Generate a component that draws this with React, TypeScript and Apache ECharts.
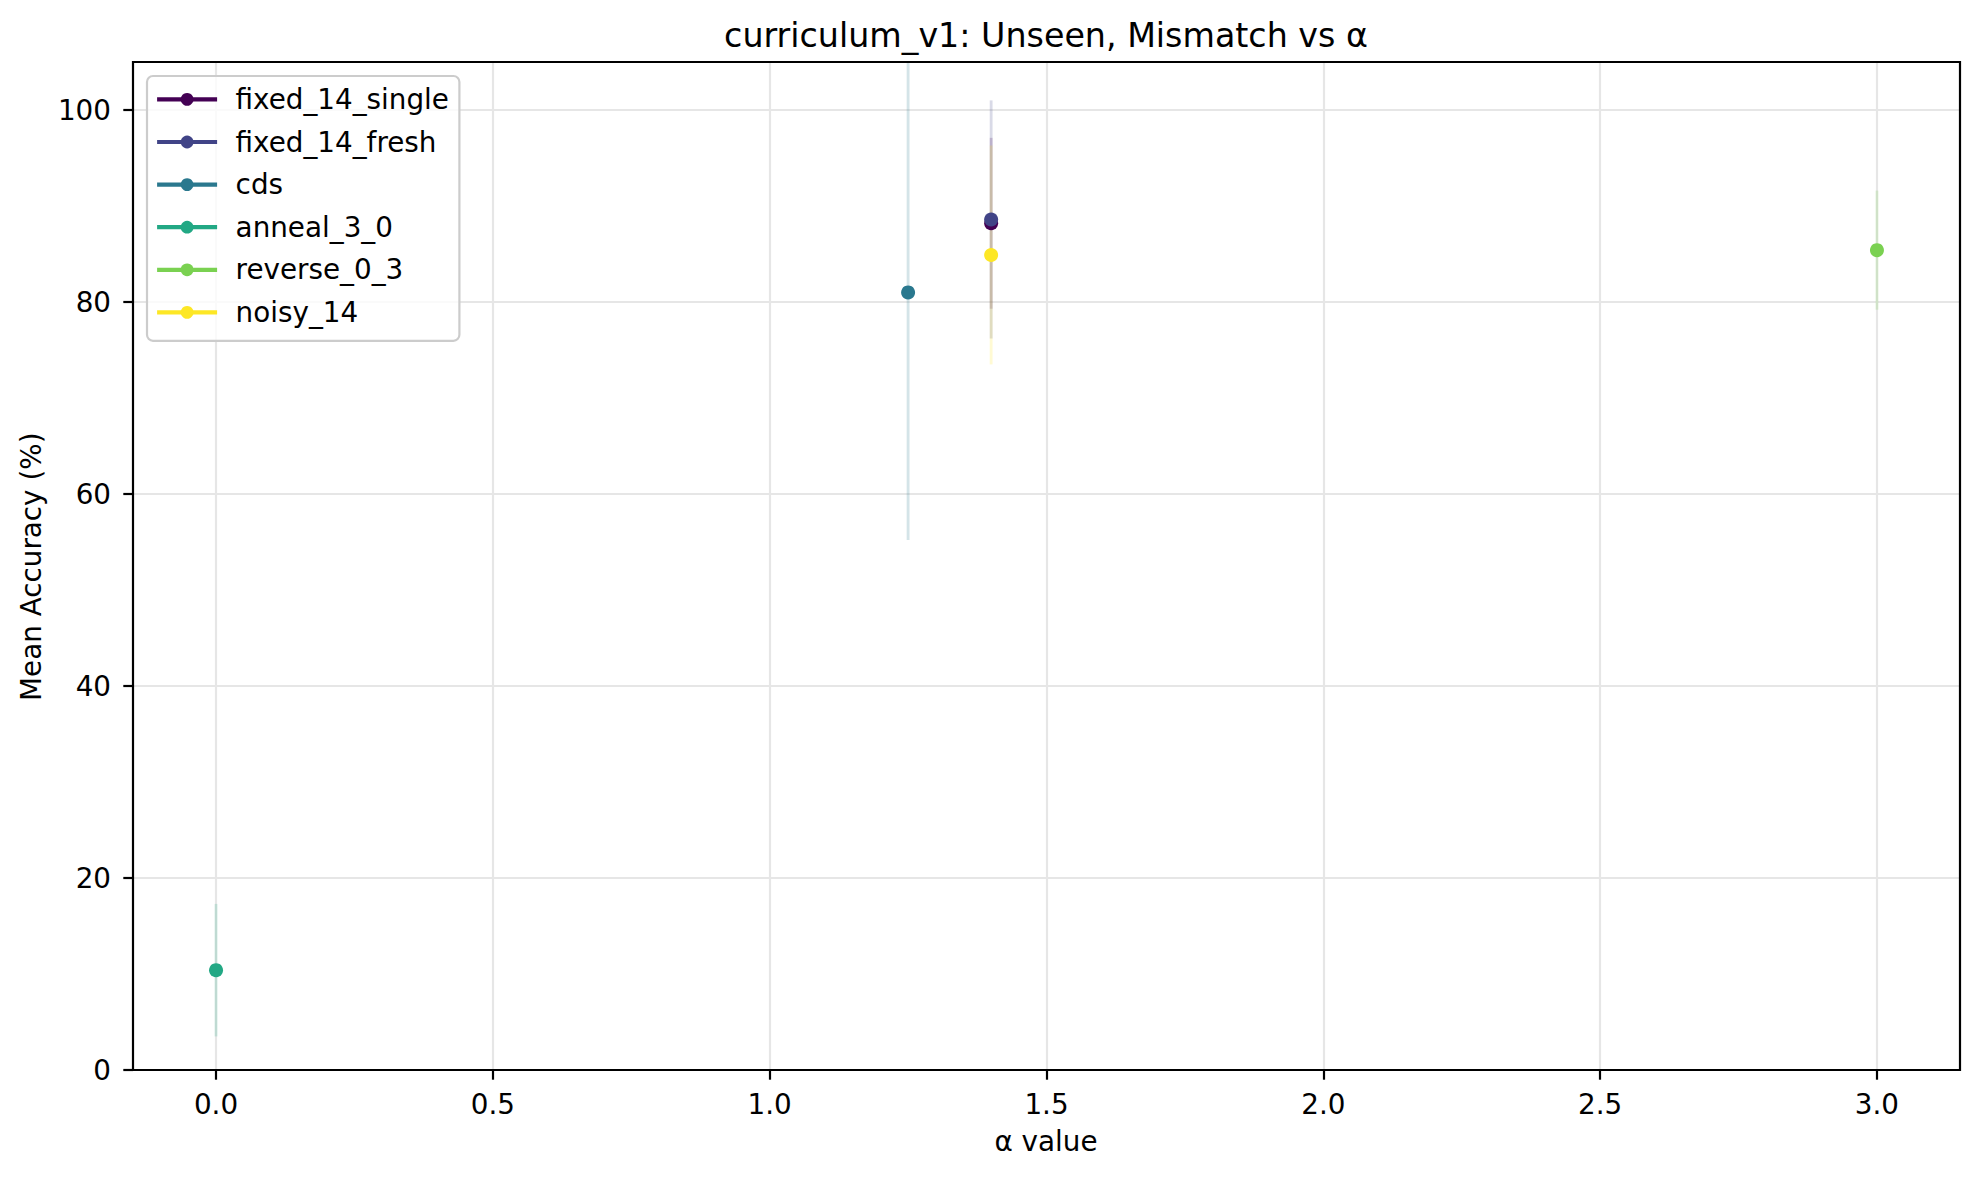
import React, { useEffect, useRef } from "react";
import * as echarts from "echarts";

// ---- data ----
const seriesNames = ["fixed_14_single", "fixed_14_fresh", "cds", "anneal_3_0", "reverse_0_3", "noisy_14"];
const alphaValues = [1.4, 1.4, 1.25, 0.0, 3.0, 1.4];
const meanAccuracy = [88.2, 88.6, 81.0, 10.4, 85.4, 84.9];
const stdAccuracy = [8.9, 12.4, 25.8, 6.9, 6.2, 11.4];
const seriesColors = ["#440154", "#414487", "#2a788e", "#22a884", "#7ad151", "#fde725"];
const xTicks = [0, 0.5, 1.0, 1.5, 2.0, 2.5, 3.0];
const xTickLabels = ["0.0", "0.5", "1.0", "1.5", "2.0", "2.5", "3.0"];
const yTicks = [0, 20, 40, 60, 80, 100];
const X_MIN = -0.15;
const X_MAX = 3.15;
const Y_MIN = 0;
const Y_MAX = 105;

const TITLE = "curriculum_v1: Unseen, Mismatch vs α";
const X_LABEL = "α value";
const Y_LABEL = "Mean Accuracy (%)";

const FONT = "DejaVu Sans";

export default function App() {
  const ref = useRef<HTMLDivElement>(null);

  useEffect(() => {
    if (!ref.current) return;
    const chart = echarts.init(ref.current, undefined, { renderer: "svg" });

    const series: any[] = [];
    seriesNames.forEach((name, i) => {
      const color = seriesColors[i];
      series.push({
        type: "custom",
        name: name + " error",
        clip: true,
        silent: true,
        z: 2,
        data: [[alphaValues[i], meanAccuracy[i] - stdAccuracy[i], meanAccuracy[i] + stdAccuracy[i]]],
        encode: { x: 0, y: [1, 2] },
        renderItem: (params: any, api: any) => {
          const lo = Math.max(api.value(1), Y_MIN);
          const hi = Math.min(api.value(2), Y_MAX);
          const p1 = api.coord([api.value(0), lo]);
          const p2 = api.coord([api.value(0), hi]);
          return {
            type: "line",
            shape: { x1: p1[0], y1: p1[1], x2: p2[0], y2: p2[1] },
            style: { stroke: color, lineWidth: 2.8, opacity: 0.2 },
          };
        },
      });
      series.push({
        type: "line",
        name,
        data: [[alphaValues[i], meanAccuracy[i]]],
        symbol: "circle",
        symbolSize: 14,
        showSymbol: true,
        silent: true,
        z: 3,
        itemStyle: { color, borderWidth: 0 },
        lineStyle: { color, width: 4.2 },
        emphasis: { disabled: true },
      });
    });

    // axes frame (spines), drawn through the axis scales, above everything
    series.push({
      type: "custom",
      name: "frame",
      clip: false,
      silent: true,
      z: 20,
      data: [[X_MIN, Y_MIN, X_MAX, Y_MAX]],
      encode: { x: [0, 2], y: [1, 3] },
      renderItem: (params: any, api: any) => {
        const tl = api.coord([api.value(0), api.value(3)]);
        const br = api.coord([api.value(2), api.value(1)]);
        return {
          type: "rect",
          shape: { x: tl[0], y: tl[1], width: br[0] - tl[0], height: br[1] - tl[1] },
          style: { fill: "none", stroke: "#000000", lineWidth: 2.2 },
        };
      },
    });

    const option: any = {
      animation: false,
      backgroundColor: "#ffffff",
      grid: {
        left: 133,
        top: 62,
        right: 20,
        bottom: 107,
        show: false,
        containLabel: false,
      },
      xAxis: {
        type: "value",
        min: X_MIN,
        max: X_MAX,
        axisLine: { show: false, onZero: false },
        axisTick: {
          show: true,
          customValues: xTicks,
          length: 9.7,
          lineStyle: { color: "#000000", width: 2.2 },
        },
        axisLabel: {
          show: true,
          customValues: xTicks,
          formatter: (v: number) => {
            const idx = xTicks.findIndex((t) => Math.abs(t - v) < 1e-9);
            return idx >= 0 ? xTickLabels[idx] : "";
          },
          margin: 20,
          fontSize: 27.8,
          fontFamily: FONT,
          color: "#000000",
        },
        splitLine: { show: true, lineStyle: { color: "#e6e6e6", width: 2.2 } },
      },
      yAxis: {
        type: "value",
        min: Y_MIN,
        max: Y_MAX,
        axisLine: { show: false, onZero: false },
        axisTick: {
          show: true,
          customValues: yTicks,
          length: 9.7,
          lineStyle: { color: "#000000", width: 2.2 },
        },
        axisLabel: {
          show: true,
          customValues: yTicks,
          formatter: (v: number) => String(v),
          margin: 22,
          fontSize: 27.8,
          fontFamily: FONT,
          color: "#000000",
          padding: [5, 0, 0, 0],
        },
        splitLine: { show: true, lineStyle: { color: "#e6e6e6", width: 2.2 } },
      },
      legend: {
        data: seriesNames,
        orient: "vertical",
        left: 147,
        top: 76,
        itemWidth: 60,
        itemHeight: 16,
        itemGap: 14.6,
        padding: [9.4, 10.5, 14.4, 8],
        backgroundColor: "rgba(255,255,255,0.8)",
        borderColor: "#cccccc",
        borderWidth: 2.2,
        borderRadius: 6,
        selectedMode: false,
        lineStyle: { width: 4.2 },
        textStyle: {
          fontSize: 27.8,
          fontFamily: FONT,
          color: "#000000",
          padding: [0, 0, 0, 13.5],
        },
        z: 10,
      },
      tooltip: { show: false },
      graphic: [
        {
          type: "text",
          x: 1046,
          y: 35.3,
          style: {
            text: TITLE,
            font: `33.3px "${FONT}"`,
            fill: "#000000",
            textAlign: "center",
            textVerticalAlign: "middle",
          },
        },
        {
          type: "text",
          x: 1046,
          y: 1141.5,
          style: {
            text: X_LABEL,
            font: `27.8px "${FONT}"`,
            fill: "#000000",
            textAlign: "center",
            textVerticalAlign: "middle",
          },
        },
        {
          type: "text",
          x: 31.5,
          y: 566.7,
          rotation: Math.PI / 2,
          style: {
            text: Y_LABEL,
            font: `27.8px "${FONT}"`,
            fill: "#000000",
            textAlign: "center",
            textVerticalAlign: "middle",
          },
        },
      ],
      series,
    };

    chart.setOption(option);
    return () => {
      chart.dispose();
    };
  }, []);

  return (
    <div
      ref={ref}
      style={{ position: "absolute", left: 0, top: 0, width: 1980, height: 1177 }}
    />
  );
}
